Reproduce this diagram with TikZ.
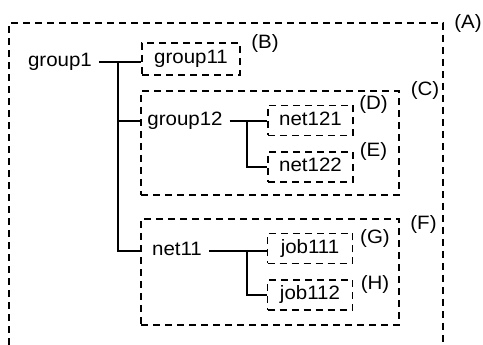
\documentclass[tikz,border=0pt]{standalone}
\usepackage{fontspec}
\setmainfont{Liberation Sans}[FakeStretch=1.06]
\begin{document}
\begin{tikzpicture}[x=0.75pt,y=-0.75pt,
  every node/.style={font=\fontsize{14.5pt}{17pt}\selectfont},
  ln/.style={line width=1.4pt},
  dsh/.style={ln,dash pattern=on 5.25pt off 3.75pt},
  txt/.style={inner xsep=5pt,inner ysep=0pt,text height=0.72em,text depth=0pt},
  lbl/.style={inner sep=0pt},
  leaf/.style={dsh,draw,inner sep=0pt,text height=0.72em,text depth=0pt,minimum width=63.75pt,minimum height=22.5pt},
  grp/.style={dsh,draw,inner sep=0pt,minimum width=193.5pt}
]
\useasboundingbox (0,0) rectangle (483,345);
% outer box (A), open at the bottom
\coordinate (aBL) at (9,345);
\coordinate (aTL) at (9,23);
\coordinate (aTR) at (443,23);
\coordinate (aBR) at (443,345);
\draw[dsh] (aBL) -- (aTL) -- (aTR) -- (aBR);
% group boxes
\node[grp,minimum height=78pt] (boxC) at (270,143) {};
\node[grp,minimum height=79.5pt] (boxF) at (270,272) {};
% nodes
\node[txt] (group1) at (60,62) {group1};
\node[leaf,minimum width=73.5pt,minimum height=24pt] (group11) at (191,59) {group11};
\node[txt] (group12) at (185,121) {group12};
\node[leaf] (net121) at (310.5,120.5) {net121};
\node[leaf] (net122) at (310.5,167) {net122};
\node[txt] (net11) at (177,251) {net11};
\node[leaf] (job111) at (310,248.5) {job111};
\node[leaf] (job112) at (310,295) {job112};
% labels
\node[lbl] (lA) at (468,23.5) {(A)};
\node[lbl] (lB) at (265,44) {(B)};
\node[lbl] (lC) at (425,91) {(C)};
\node[lbl] (lD) at (373.5,105) {(D)};
\node[lbl] (lE) at (373.5,151) {(E)};
\node[lbl] (lF) at (423.5,225) {(F)};
\node[lbl] (lG) at (375,238.5) {(G)};
\node[lbl] (lH) at (375,284.5) {(H)};
% trunk positions
\coordinate (tx1) at (118,0);
\coordinate (tx2) at (247,0);
% connectors
\draw[ln] (group1.east) -- (group1.east -| group11.west);
\draw[ln] (group1.east -| tx1) |- (net11.west -| boxF.west);
\draw[ln] (group12.west -| tx1) -- (group12.west -| boxC.west);
\draw[ln] (group12.east) -- (group12.east -| net121.west);
\draw[ln] (group12.east -| tx2) |- (net122.west);
\draw[ln] (net11.east) -- (net11.east -| job111.west);
\draw[ln] (net11.east -| tx2) |- (job112.west);
\end{tikzpicture}
\end{document}
